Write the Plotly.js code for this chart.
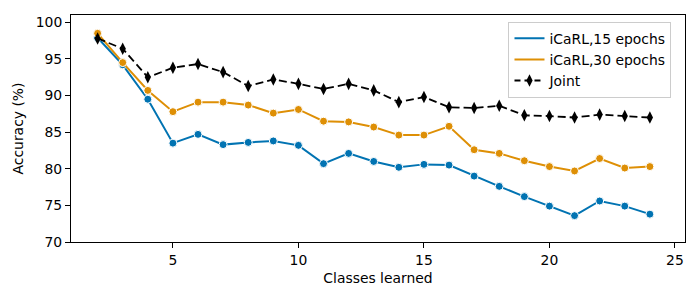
<!DOCTYPE html>
<html>
<head>
<meta charset="utf-8">
<script src="https://cdn.plot.ly/plotly-3.0.1.min.js"></script>
<style>html,body{margin:0;padding:0;background:#fff;}#chart{width:700px;height:300px;}</style>
</head>
<body>
<div id="chart"></div>
<script>
const classes = [2,3,4,5,6,7,8,9,10,11,12,13,14,15,16,17,18,19,20,21,22,23,24];
const icarl15 = [97.9,94.2,89.5,83.5,84.7,83.3,83.6,83.8,83.2,80.7,82.1,81.0,80.2,80.6,80.5,79.0,77.6,76.2,74.9,73.6,75.6,74.9,73.8];
const icarl30 = [98.5,94.5,90.7,87.8,89.1,89.1,88.7,87.6,88.1,86.5,86.4,85.7,84.6,84.6,85.8,82.6,82.1,81.1,80.3,79.7,81.4,80.1,80.3];
const joint = [97.8,96.4,92.5,93.8,94.3,93.2,91.3,92.2,91.6,90.9,91.6,90.7,89.1,89.8,88.4,88.3,88.6,87.3,87.2,87.0,87.4,87.2,87.0];
const names = ["iCaRL,15 epochs","iCaRL,30 epochs","Joint"];
const xTicks = [5,10,15,20,25];
const yTicks = [70,75,80,85,90,95,100];

const font = {family: "DejaVu Sans", size: 13.9, color: "#000"};
const blue = "#0173b2", orange = "#de8f05";
const traces = [
  {x: classes, y: icarl15, name: names[0], mode: "lines+markers", type: "scatter", showlegend: false,
   line: {color: blue, width: 2},
   marker: {symbol: "circle", size: 8, color: blue, line: {color: "#fff", width: 1}}},
  {x: classes, y: icarl30, name: names[1], mode: "lines+markers", type: "scatter", showlegend: false,
   line: {color: orange, width: 2},
   marker: {symbol: "circle", size: 8, color: orange, line: {color: "#fff", width: 1}}},
  {x: classes, y: joint, name: names[2], mode: "lines+markers", type: "scatter", showlegend: false,
   line: {color: "#000", width: 1.8, dash: "8px,4px"},
   marker: {symbol: "diamond-tall", size: 9, color: "#000"}},
  // legend entries (matplotlib-style: lines only for iCaRL)
  {x: [null], y: [null], name: names[0], mode: "lines", type: "scatter", line: {color: blue, width: 2}},
  {x: [null], y: [null], name: names[1], mode: "lines", type: "scatter", line: {color: orange, width: 2}},
  {x: [null], y: [null], name: names[2], mode: "lines+markers", type: "scatter",
   line: {color: "#000", width: 1.8, dash: "6px,4px"}, marker: {symbol: "diamond-tall", size: 9, color: "#000"}}
];
const axisBase = {showline: true, mirror: true, linecolor: "#000", linewidth: 1,
  ticks: "outside", ticklen: 5, tickwidth: 1, tickcolor: "#000", showgrid: false,
  zeroline: false, tickfont: font};
const layout = {
  width: 700, height: 300,
  margin: {l: 71, r: 15, t: 15, b: 58},
  paper_bgcolor: "#fff", plot_bgcolor: "#fff",
  font: font,
  showlegend: true,
  xaxis: Object.assign({}, axisBase, {range: [0.94, 25.4], tickvals: xTicks,
    title: {text: "Classes learned", font: font, standoff: 6}}),
  yaxis: Object.assign({}, axisBase, {range: [70, 101], tickvals: yTicks,
    title: {text: "Accuracy (%)", font: font, standoff: 8}}),
  legend: {x: 0.978, y: 0.97, xanchor: "right", yanchor: "top",
    bgcolor: "rgba(255,255,255,0.8)", bordercolor: "#ccc", borderwidth: 1,
    font: font, tracegroupgap: 0, itemwidth: 30}
};
Plotly.newPlot("chart", traces, layout, {displayModeBar: false, staticPlot: true});
</script>
</body>
</html>
